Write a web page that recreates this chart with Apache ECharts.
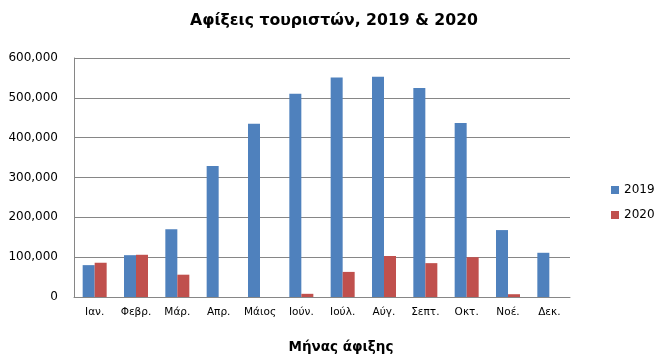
<!DOCTYPE html>
<html><head><meta charset="utf-8">
<script src="https://cdn.jsdelivr.net/npm/echarts@6/dist/echarts.min.js"></script>
<style>html,body{margin:0;padding:0;background:#fff}#c{width:665px;height:364px}</style>
</head><body><div id="c"></div>
<script>
const months = ['Ιαν.','Φεβρ.','Μάρ.','Απρ.','Μάιος','Ιούν.','Ιούλ.','Αύγ.','Σεπτ.','Οκτ.','Νοέ.','Δεκ.'];
const arrivals2019 = [80000,105000,170000,329000,435000,510000,551000,553000,525000,437000,168000,111000];
const arrivals2020 = [86000,106000,56000,0,0,8000,63000,103000,85000,100000,7000,0];
const seriesNames = ['2019','2020'];
const FONT = 'DejaVu Sans, Verdana, sans-serif';
const chart = echarts.init(document.getElementById('c'));
chart.setOption({
  animation:false,
  textStyle:{fontFamily:FONT},
  title:{text:'Αφίξεις τουριστών, 2019 & 2020',left:329,top:8,textAlign:'center',
    textStyle:{fontFamily:FONT,fontSize:15.7,fontWeight:'bold',color:'#000'}},
  legend:{orient:'vertical',left:606,top:179,itemWidth:8,itemHeight:8,itemGap:13,icon:'rect',
    textStyle:{fontFamily:FONT,fontSize:12,color:'#000'},data:seriesNames},
  grid:{left:74,right:95,top:58,bottom:67,containLabel:false},
  graphic:[{type:'text',
    style:{text:'Μήνας άφιξης',x:341,y:347,align:'center',verticalAlign:'middle',textAlign:'center',textVerticalAlign:'middle',font:'bold 13.5px DejaVu Sans',fill:'#000'}}],
  xAxis:{type:'category',data:months,
    axisLine:{lineStyle:{color:'#868686'}},axisTick:{show:false},
    axisLabel:{interval:0,fontFamily:FONT,fontSize:10.5,color:'#000',margin:10}},
  yAxis:{type:'value',min:0,max:600000,interval:100000,
    axisLine:{show:true,lineStyle:{color:'#868686'}},axisTick:{show:false},
    splitLine:{lineStyle:{color:'#868686'}},
    axisLabel:{fontFamily:FONT,fontSize:12,color:'#000',margin:16,
      formatter:v=>v.toLocaleString('en-US')}},
  series:[
    {name:seriesNames[0],type:'bar',data:arrivals2019,barWidth:12,barGap:'0%',itemStyle:{color:'#4F81BD'}},
    {name:seriesNames[1],type:'bar',data:arrivals2020,barWidth:12,itemStyle:{color:'#C0504D'}}
  ]
});
</script></body></html>
